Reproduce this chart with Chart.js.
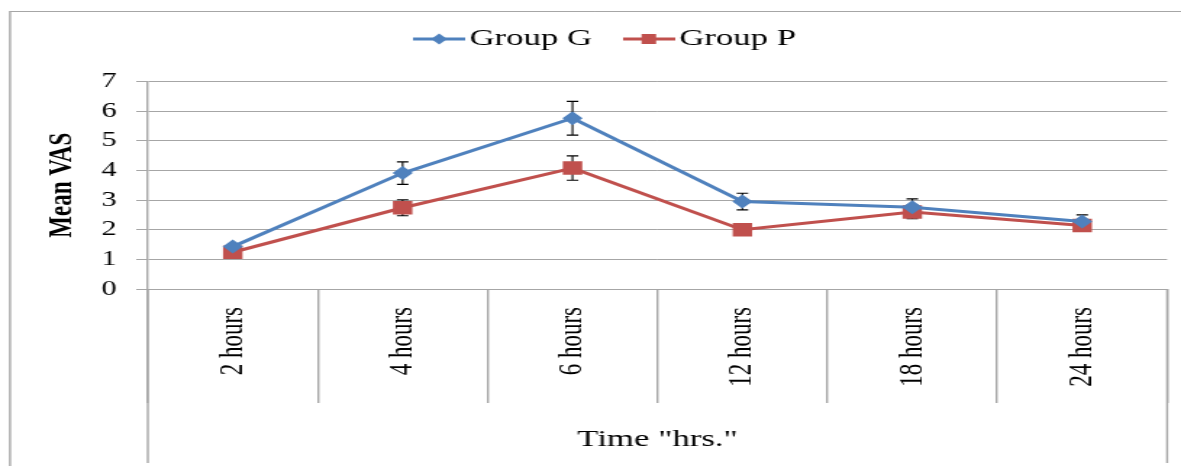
<!DOCTYPE html>
<html>
<head>
<meta charset="utf-8">
<script src="https://cdn.jsdelivr.net/npm/chart.js@4"></script>
<style>
  html, body { margin: 0; padding: 0; background: #fff; overflow: hidden; }
  /* the reference is stretched sideways, so draw narrow and scale up */
  #wrap { width: 815px; height: 466px; transform: scaleX(1.4491); transform-origin: 0 0; }
</style>
</head>
<body>
<div id="wrap"><canvas id="vasChart"></canvas></div>
<script>
const timeLabels = ['2 hours', '4 hours', '6 hours', '12 hours', '18 hours', '24 hours'];
const groupG = [1.43, 3.91, 5.76, 2.95, 2.76, 2.28];
const groupP = [1.24, 2.74, 4.08, 2.0, 2.6, 2.14];
const errG = [0.06, 0.38, 0.57, 0.28, 0.28, 0.22];
const errP = [0.05, 0.27, 0.41, 0.06, 0.23, 0.06];
const yTicks = [0, 1, 2, 3, 4, 5, 6, 7];

const blue = '#4f81bd';
const red = '#c0504d';
const gridGrey = '#a6a6a6';
const serif = 'Liberation Serif';

// little line + marker picture for the legend
function legendIcon(color, shape) {
  const c = document.createElement('canvas');
  c.width = 36; c.height = 16;
  const g = c.getContext('2d');
  g.strokeStyle = color;
  g.lineWidth = 3;
  g.beginPath(); g.moveTo(0, 8); g.lineTo(36, 8); g.stroke();
  g.fillStyle = color;
  if (shape === 'rectRot') {
    g.beginPath(); g.moveTo(18, 2.5); g.lineTo(23.5, 8); g.lineTo(18, 13.5); g.lineTo(12.5, 8); g.closePath(); g.fill();
  } else {
    g.fillRect(13, 3, 10, 10);
  }
  return c;
}

const extras = {
  id: 'extras',
  afterLayout(chart) {
    // nudge legend to where it sits in the original
    const lg = chart.legend;
    lg.left += 19; lg.right += 19;
    lg.top -= 20.5; lg.bottom -= 20.5;
  },
  beforeDraw(chart) {
    const ctx = chart.ctx;
    ctx.save();
    ctx.strokeStyle = gridGrey;
    ctx.lineWidth = 1;
    ctx.beginPath(); ctx.moveTo(6.9, 11.5); ctx.lineTo(chart.width, 11.5); ctx.stroke();
    ctx.lineWidth = 1.4;
    ctx.beginPath(); ctx.moveTo(6.9, 11); ctx.lineTo(6.9, chart.height); ctx.stroke();
    ctx.restore();
  },
  // error bars go under the markers, like in the original
  beforeDatasetsDraw(chart) {
    const ctx = chart.ctx;
    const y = chart.scales.y;
    ctx.save();
    ctx.strokeStyle = '#000';
    ctx.lineWidth = 1.1;
    chart.data.datasets.forEach((ds, i) => {
      const meta = chart.getDatasetMeta(i);
      ds.errors.forEach((e, j) => {
        const x = meta.data[j].x;
        const top = y.getPixelForValue(ds.data[j] + e);
        const bot = y.getPixelForValue(ds.data[j] - e);
        ctx.beginPath();
        ctx.moveTo(x, top); ctx.lineTo(x, bot);
        ctx.moveTo(x - 4, top); ctx.lineTo(x + 4, top);
        ctx.moveTo(x - 4, bot); ctx.lineTo(x + 4, bot);
        ctx.stroke();
      });
    });
    ctx.restore();
  },
  afterDraw(chart) {
    const ctx = chart.ctx;
    const a = chart.chartArea;
    ctx.save();
    ctx.strokeStyle = gridGrey;
    ctx.lineWidth = 1.4;
    ctx.beginPath();
    ctx.moveTo(a.left, a.bottom); ctx.lineTo(a.left, 463);
    ctx.moveTo(a.right, a.bottom); ctx.lineTo(a.right, 463);
    ctx.stroke();
    ctx.restore();
  }
};

const ctx = document.getElementById('vasChart').getContext('2d');

const vasChart = new Chart(ctx, {
  type: 'line',
  data: {
    labels: timeLabels,
    datasets: [{
      label: 'Group G',
      data: groupG,
      errors: errG,
      borderColor: blue,
      backgroundColor: blue,
      borderWidth: 3,
      pointStyle: 'rectRot',
      pointRadius: 7,
      pointBorderWidth: 0
    }, {
      label: 'Group P',
      data: groupP,
      errors: errP,
      borderColor: red,
      backgroundColor: red,
      borderWidth: 3,
      pointStyle: 'rect',
      pointRadius: 9.5,
      pointBorderWidth: 0
    }]
  },
  plugins: [extras],
  options: {
    responsive: true,
    maintainAspectRatio: false,
    animation: false,
    layout: {
      padding: { left: 0, top: 17.5, right: 9.6, bottom: 0 }
    },
    plugins: {
      tooltip: { enabled: false },
      legend: {
        position: 'top',
        labels: {
          usePointStyle: true,
          pointStyleWidth: 18,
          padding: 30,
          color: '#000',
          font: { family: serif, size: 24 },
          generateLabels: chart => chart.data.datasets.map((ds, i) => ({
            text: ds.label,
            datasetIndex: i,
            pointStyle: legendIcon(ds.borderColor, ds.pointStyle),
            fillStyle: ds.borderColor,
            strokeStyle: ds.borderColor,
            lineWidth: 0,
            hidden: false,
            fontColor: '#000'
          }))
        }
      }
    },
    scales: {
      x: {
        offset: true,
        afterFit: scale => { scale.height = 177; },
        grid: {
          offset: true,
          drawOnChartArea: false,
          drawTicks: true,
          tickLength: 114,
          color: gridGrey,
          lineWidth: 1.4
        },
        border: { display: true, color: gridGrey, width: 1 },
        ticks: {
          minRotation: 90,
          maxRotation: 90,
          padding: -96,
          color: '#000',
          font: { family: serif, size: 23 }
        },
        title: {
          display: true,
          text: 'Time "hrs."',
          color: '#000',
          font: { family: serif, size: 24 },
          padding: { top: 0, bottom: 11.6 }
        }
      },
      y: {
        min: 0,
        max: 7,
        afterFit: scale => { scale.width = 102; },
        afterBuildTicks: scale => { scale.ticks = yTicks.map(v => ({ value: v })); },
        grid: {
          color: gridGrey,
          lineWidth: 1,
          tickLength: 8
        },
        border: { display: true, color: gridGrey, width: 1.4 },
        ticks: {
          padding: 13.5,
          color: '#000',
          font: { family: serif, size: 21 }
        },
        title: {
          display: true,
          text: 'Mean VAS',
          color: '#000',
          font: { family: serif, size: 23, weight: 'bold' },
          padding: { top: 29, bottom: 0 }
        }
      }
    }
  }
});
</script>
</body>
</html>
